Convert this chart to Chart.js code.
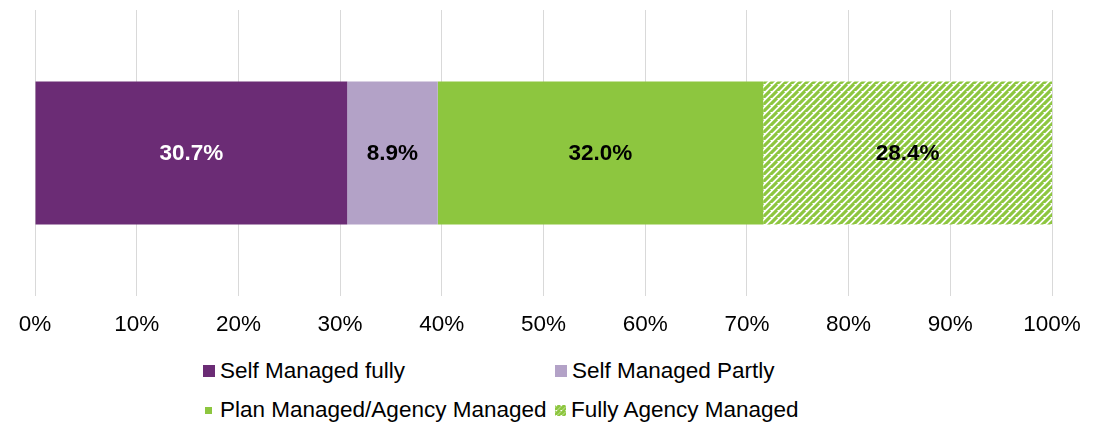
<!DOCTYPE html>
<html>
<head>
<meta charset="utf-8">
<script src="https://cdn.jsdelivr.net/npm/chart.js@4"></script>
<style>
  body { margin: 0; background: #fff; font-family: "Liberation Sans", Arial, sans-serif; }
  #wrap { position: relative; width: 1102px; height: 360px; }
  #legend {
    display: grid;
    grid-template-columns: 352px 320px;
    margin-left: 203px;
    margin-top: -2px;
    row-gap: 13px;
    font-size: 22.5px;
    color: #000;
    line-height: 26px;
  }
  .item { display: flex; align-items: center; white-space: nowrap; }
  .box { display: inline-block; }
</style>
</head>
<body>
<div id="wrap"><canvas id="chart"></canvas></div>
<div id="legend"></div>
<script>
const categories = [''];
const seriesNames = ['Self Managed fully', 'Self Managed Partly', 'Plan Managed/Agency Managed', 'Fully Agency Managed'];
const seriesValues = [[30.7], [8.9], [32.0], [28.4]];
const tickLabels = ['0%', '10%', '20%', '30%', '40%', '50%', '60%', '70%', '80%', '90%', '100%'];

const purple = '#6b2c75';
const lilac = '#b3a2c7';
const green = '#8dc63f';

function hatch(size) {
    const c = document.createElement('canvas');
    c.width = size; c.height = size;
    const g = c.getContext('2d');
    g.fillStyle = '#fff';
    g.fillRect(0, 0, size, size);
    g.strokeStyle = green;
    g.lineWidth = 3.2;
    g.beginPath();
    for (let k = -size; k <= size * 2; k += size) {
        g.moveTo(k - size, size * 2);
        g.lineTo(k + size, 0);
    }
    g.stroke();
    return c;
}
const ctx = document.getElementById('chart').getContext('2d');
const hatchPattern = ctx.createPattern(hatch(7), 'repeat');

const fills = [purple, lilac, green, hatchPattern];
const labelColors = ['#fff', '#000', '#000', '#000'];

const barLabels = {
    id: 'barLabels',
    afterDatasetsDraw(chart) {
        const c = chart.ctx;
        c.save();
        c.font = 'bold 22.5px "Liberation Sans", Arial, sans-serif';
        c.textAlign = 'center';
        c.textBaseline = 'middle';
        chart.data.datasets.forEach((ds, i) => {
            chart.getDatasetMeta(i).data.forEach((bar, j) => {
                const x = (bar.x + bar.base) / 2;
                c.fillStyle = labelColors[i];
                c.fillText(ds.data[j].toFixed(1) + '%', x, bar.y + 1);
            });
        });
        c.restore();
    }
};

new Chart(ctx, {
    type: 'bar',
    data: {
        labels: categories,
        datasets: seriesNames.map((name, i) => ({
            label: name,
            data: seriesValues[i],
            backgroundColor: fills[i],
            borderWidth: 0,
            categoryPercentage: 0.5,
            barPercentage: 1
        }))
    },
    options: {
        indexAxis: 'y',
        responsive: true,
        maintainAspectRatio: false,
        animation: false,
        layout: { padding: { left: 35, right: 50, top: 10, bottom: 7 } },
        scales: {
            x: {
                stacked: true,
                min: 0,
                max: 100,
                border: { display: false },
                grid: { color: '#d9d9d9', lineWidth: 1, drawTicks: false },
                ticks: {
                    stepSize: 10,
                    padding: 15,
                    color: '#000',
                    font: { size: 22.5, family: '"Liberation Sans", Arial, sans-serif' },
                    callback: (v, i) => tickLabels[i]
                }
            },
            y: { stacked: true, display: false }
        },
        plugins: {
            legend: { display: false },
            tooltip: { enabled: false }
        }
    },
    plugins: [barLabels]
});

// legend in two columns like the original
const legend = document.getElementById('legend');
const boxSizes = [12, 12, 7, 11];
const boxGaps = [5, 5, 8, 5];
seriesNames.forEach((name, i) => {
    const item = document.createElement('div');
    item.className = 'item';
    const box = document.createElement('span');
    box.className = 'box';
    box.style.width = boxSizes[i] + 'px';
    box.style.height = boxSizes[i] + 'px';
    box.style.marginRight = boxGaps[i] + 'px';
    if (i === 2) box.style.marginLeft = '2px';
    if (i === 3) {
        box.style.backgroundImage = 'url(' + hatch(5).toDataURL() + ')';
    } else {
        box.style.background = fills[i];
    }
    item.appendChild(box);
    item.appendChild(document.createTextNode(name));
    legend.appendChild(item);
});
</script>
</body>
</html>
